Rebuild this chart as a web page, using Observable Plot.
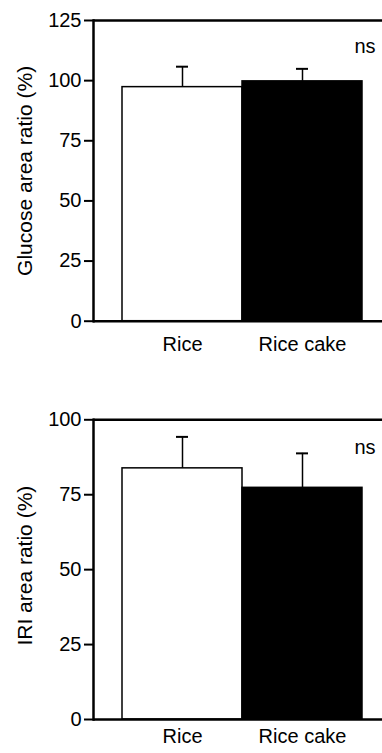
<!DOCTYPE html>
<html><head><meta charset="utf-8">
<script src="https://cdn.jsdelivr.net/npm/d3@7"></script>
<script src="https://cdn.jsdelivr.net/npm/@observablehq/plot@0.6"></script>
<style>body{margin:0;background:#fff} #chart svg{display:block}</style>
</head><body><div id="chart"></div>
<script>
const categories = ["Rice", "Rice cake"];
const glucoseMean = [97.3, 99.7];
const glucoseSD = [8.5, 5.2];
const glucoseTicks = [0, 25, 50, 75, 100, 125];
const glucoseLabel = "Glucose area ratio (%)";
const iriMean = [83.8, 77.3];
const iriSD = [10.5, 11.5];
const iriTicks = [0, 25, 50, 75, 100];
const iriLabel = "IRI area ratio (%)";
const sigText = "ns";

function panel({means, sds, ticks, yMax, label, nsY, height, marginTop, marginBottom, labelDy, xPad}) {
  const data = categories.map((c, i) => ({cat: c, mean: means[i], sd: sds[i]}));
  return Plot.plot({
    width: 382, height, marginTop, marginBottom, marginLeft: 93, marginRight: 0,
    style: {fontFamily: "'Liberation Sans', Arial, sans-serif", fontSize: "20px", color: "black", background: "white"},
    x: {domain: categories, range: [122, 362.5], padding: 0, label: null},
    y: {domain: [0, yMax], label: null},
    color: {domain: categories, range: ["white", "black"]},
    marks: [
      Plot.barY(data, {x: "cat", y: "mean", fill: "cat", stroke: "black", strokeWidth: 1.5}),
      Plot.ruleX(data, {x: "cat", y1: "mean", y2: d => d.mean + d.sd, stroke: "black", strokeWidth: 1.5}),
      Plot.tickY(data, {x: "cat", y: d => d.mean + d.sd, stroke: "black", strokeWidth: 2, insetLeft: 54, insetRight: 54}),
      Plot.ruleY([0, yMax], {stroke: "black", strokeWidth: 2.5}),
      Plot.frame({anchor: "left", stroke: "black", strokeWidth: 2.5}),
      Plot.axisY({ticks, tickSize: 9, tickPadding: 3, tickFormat: d => d, strokeWidth: 2, fontSize: 20, label: null}),
      Plot.axisX({tickSize: 0, tickPadding: xPad, fontSize: 20, label: null}),
      Plot.text([label], {frameAnchor: "left", dx: -68, dy: labelDy, rotate: -90, textAnchor: "middle", fontSize: 21}),
      Plot.text([nsY], {y: d => d, text: () => sigText, frameAnchor: "right", textAnchor: "end", dx: -7, fontSize: 20})
    ]
  });
}

const el = document.getElementById("chart");
el.appendChild(panel({means: glucoseMean, sds: glucoseSD, ticks: glucoseTicks, yMax: 125, label: glucoseLabel, nsY: 114,
  height: 376, marginTop: 20, marginBottom: 55.3, labelDy: 0, xPad: 16}));
el.appendChild(panel({means: iriMean, sds: iriSD, ticks: iriTicks, yMax: 100, label: iriLabel, nsY: 90.8,
  height: 377, marginTop: 43.3, marginBottom: 34, labelDy: -4, xPad: 9}));
</script>
</body></html>
